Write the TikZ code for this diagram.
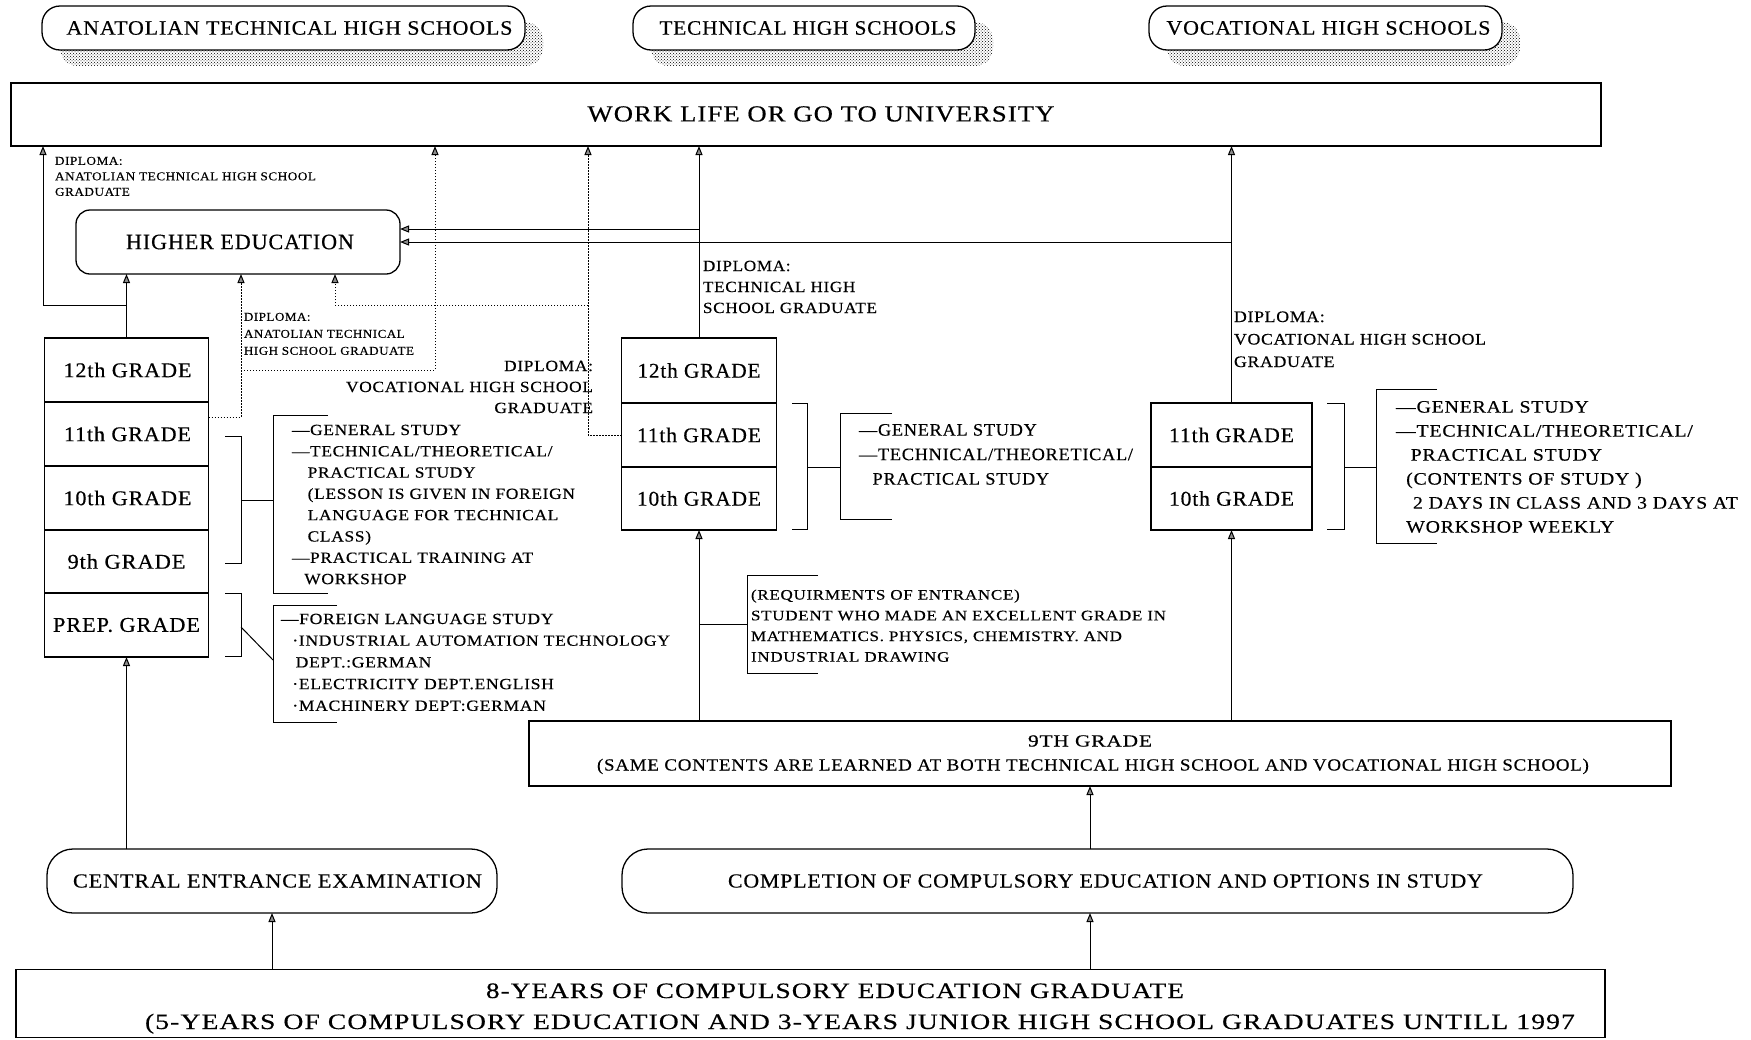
\documentclass[tikz,border=0pt]{standalone}
\usepackage{fontspec}
\setmainfont{Liberation Serif}[FakeBold=0.4, LetterSpace=4]
\usepackage{graphicx}
\usetikzlibrary{arrows.meta,patterns,shadows}
\newsavebox\fitbox
\newcommand\fitw[2]{\sbox\fitbox{#2}\pgfmathsetmacro\fitr{#1/\the\wd\fitbox}\scalebox{\fitr}[1]{\usebox\fitbox}}
\newcommand\fs[2]{\fontsize{#1}{#2}\selectfont}
\begin{document}
\begin{tikzpicture}[x=1pt,y=-1pt,
  every node/.style={inner sep=0pt, outer sep=0pt},
  box/.style={draw, line width=1.3pt, fill=white},
  titlebox/.style={box, rounded corners=18pt, minimum height=44pt,
    general shadow={shadow xshift=18pt, shadow yshift=-16pt, pattern=crosshatch dots, pattern color=black}},
  grade/.style={box, minimum height=64pt},
  agrade/.style={grade, minimum width=164pt},
  tgrade/.style={grade, minimum width=155pt},
  vgrade/.style={grade, minimum width=161pt},
  pill/.style={box, rounded corners=26pt, minimum height=64pt},
  arr/.style={line width=1pt, -{Triangle[length=9pt,width=7pt,fill=black!45]}},
  dots/.style={line width=1.1pt, dash pattern=on 1.3pt off 1.7pt},
  brk/.style={line width=1pt},
  blk/.style={anchor=base west},
]
\useasboundingbox (0,0) rectangle (1751,1039);

% top titles
\node[titlebox, minimum width=483pt] (ats) at (283.5,28) {\hspace*{12pt}\fs{20.5}{22}\fitw{446}{ANATOLIAN TECHNICAL HIGH SCHOOLS}};
\node[titlebox, minimum width=342pt] (ths) at (804,28) {\hspace*{8pt}\fs{20.5}{22}\fitw{297}{TECHNICAL HIGH SCHOOLS}};
\node[titlebox, minimum width=353pt] (vhs) at (1325.5,28) {\hspace*{6pt}\fs{20.5}{22}\fitw{324}{VOCATIONAL HIGH SCHOOLS}};

% work life
\node[box, minimum width=1590pt, minimum height=63pt] (work) at (806,114.5) {};
\node (worktxt) at (821,114) {\fs{23}{24}\fitw{467}{WORK LIFE OR GO TO UNIVERSITY}};

% higher education
\node[box, rounded corners=14pt, minimum width=324pt, minimum height=64pt] (he) at (238,242) {\hspace*{4pt}\fs{22}{24}\fitw{228}{HIGHER EDUCATION}};

% anatolian grades
\node[agrade] (a12) at (126.5,370) {\hspace*{2pt}\fs{21}{22}\fitw{128}{12th GRADE}};
\node[agrade] (a11) at (126.5,434) {\hspace*{2pt}\fs{21}{22}\fitw{127}{11th GRADE}};
\node[agrade] (a10) at (126.5,498) {\hspace*{2pt}\fs{21}{22}\fitw{128}{10th GRADE}};
\node[agrade, minimum height=63pt] (a9) at (126.5,561.5) {\fs{21}{22}\fitw{118}{9th GRADE}};
\node[agrade] (aprep) at (126.5,625) {\fs{21}{22}\fitw{147}{PREP. GRADE}};

% technical grades
\node[tgrade, minimum height=65pt] (t12) at (699,370.5) {\fs{21}{22}\fitw{123}{12th GRADE}};
\node[tgrade] (t11) at (699,435) {\fs{21}{22}\fitw{124}{11th GRADE}};
\node[tgrade, minimum height=63pt] (t10) at (699,498.5) {\fs{21}{22}\fitw{124}{10th GRADE}};

% vocational grades
\node[vgrade] (v11) at (1231.5,435) {\fs{21}{22}\fitw{125}{11th GRADE}};
\node[vgrade, minimum height=63pt] (v10) at (1231.5,498.5) {\fs{21}{22}\fitw{125}{10th GRADE}};

% 9th grade
\node[box, minimum width=1142pt, minimum height=65pt] (g9) at (1100,753.5) {};
\node[anchor=base] (g9a) at (1090,746.5) {\fs{17}{20}\fitw{124}{9TH GRADE}};
\node[anchor=base] (g9b) at (1093,770.5) {\fs{17}{20}\fitw{992}{(SAME CONTENTS ARE LEARNED AT BOTH TECHNICAL HIGH SCHOOL AND VOCATIONAL HIGH SCHOOL)}};

% entrance boxes
\node[pill, minimum width=450pt] (cee) at (272,881) {\hspace*{11pt}\fs{20}{22}\fitw{409}{CENTRAL ENTRANCE EXAMINATION}};
\node[pill, minimum width=951pt] (comp) at (1097.5,881) {\hspace*{16pt}\fs{20}{22}\fitw{755}{COMPLETION OF COMPULSORY EDUCATION AND OPTIONS IN STUDY}};

% bottom
\node[box, minimum width=1589pt, minimum height=68pt] (bot) at (810.5,1003.5) {};
\node[anchor=base] (bota) at (835,998) {\fs{22}{24}\fitw{698}{8-YEARS OF COMPULSORY EDUCATION GRADUATE}};
\node[anchor=base] (botb) at (860,1029) {\fs{22}{24}\fitw{1430}{(5-YEARS OF COMPULSORY EDUCATION AND 3-YEARS JUNIOR HIGH SCHOOL GRADUATES UNTILL 1997}};

% text blocks
\node[blk] (txA) at (292,435) {\fs{15.5}{21.3}\fitw{283}{\begin{tabular}[t]{@{}l@{}}—GENERAL STUDY\\—TECHNICAL/THEORETICAL/\\\hspace*{14pt}PRACTICAL STUDY\\\hspace*{14pt}(LESSON IS GIVEN IN FOREIGN\\\hspace*{14pt}LANGUAGE FOR TECHNICAL\\\hspace*{14pt}CLASS)\\—PRACTICAL TRAINING AT\\\hspace*{11pt}WORKSHOP\end{tabular}}};
\node[blk] (txB) at (281,624) {\fs{15.5}{21.7}\fitw{389}{\begin{tabular}[t]{@{}l@{}}—FOREIGN LANGUAGE STUDY\\\hspace*{10pt}·INDUSTRIAL AUTOMATION TECHNOLOGY\\\hspace*{13pt}DEPT.:GERMAN\\\hspace*{10pt}·ELECTRICITY DEPT.ENGLISH\\\hspace*{10pt}·MACHINERY DEPT:GERMAN\end{tabular}}};
\node[blk] (txC) at (859,435.6) {\fs{17.5}{24.5}\fitw{274}{\begin{tabular}[t]{@{}l@{}}—GENERAL STUDY\\—TECHNICAL/THEORETICAL/\\\hspace*{13pt}PRACTICAL STUDY\end{tabular}}};
\node[blk] (txD) at (1396,412.6) {\fs{17.5}{24}\fitw{342}{\begin{tabular}[t]{@{}l@{}}—GENERAL STUDY\\—TECHNICAL/THEORETICAL/\\\hspace*{13pt}PRACTICAL STUDY\\\hspace*{9pt}(CONTENTS OF STUDY )\\\hspace*{15pt}2 DAYS IN CLASS AND 3 DAYS AT\\\hspace*{9pt}WORKSHOP WEEKLY\end{tabular}}};
\node[blk] (txE) at (751,599.6) {\fs{14.5}{20.7}\fitw{415}{\begin{tabular}[t]{@{}l@{}}(REQUIRMENTS OF ENTRANCE)\\STUDENT WHO MADE AN EXCELLENT GRADE IN\\MATHEMATICS. PHYSICS, CHEMISTRY. AND\\INDUSTRIAL DRAWING\end{tabular}}};

% diploma labels
\node[blk] (dip1) at (55,164.8) {\fs{12}{15.5}\fitw{261}{\begin{tabular}[t]{@{}l@{}}DIPLOMA:\\ANATOLIAN TECHNICAL HIGH SCHOOL\\GRADUATE\end{tabular}}};
\node[blk] (dip2) at (244,320.8) {\fs{12}{17}\fitw{170}{\begin{tabular}[t]{@{}l@{}}DIPLOMA:\\ANATOLIAN TECHNICAL\\HIGH SCHOOL GRADUATE\end{tabular}}};
\node[anchor=base east] (dip3) at (593,371) {\fs{15.5}{21}\fitw{247}{\begin{tabular}[t]{@{}r@{}}DIPLOMA:\\VOCATIONAL HIGH SCHOOL\\GRADUATE\end{tabular}}};
\node[blk] (dip4) at (703,271) {\fs{15.5}{21}\fitw{174}{\begin{tabular}[t]{@{}l@{}}DIPLOMA:\\TECHNICAL HIGH\\SCHOOL GRADUATE\end{tabular}}};
\node[blk] (dip5) at (1234,322) {\fs{16}{22.5}\fitw{252}{\begin{tabular}[t]{@{}l@{}}DIPLOMA:\\VOCATIONAL HIGH SCHOOL\\GRADUATE\end{tabular}}};

% connectors: anatolian
\coordinate (jA) at (126.5,305);
\coordinate (kA) at (43,305);
\draw[arr] (a12.north) -- (a12.north |- he.south);
\draw[arr] (jA) -- (kA) -- (kA |- work.south);
\coordinate (dA0) at (208.5,417);
\coordinate (dA1) at (241,417);
\coordinate (dA2) at (241,370);
\coordinate (dA3) at (435,370);
\draw[dots, arr] (dA0) -- (dA1) -- (dA1 |- he.south);
\draw[dots, arr] (dA2) -- (dA3) -- (dA3 |- work.south);
\coordinate (dB1) at (588,435);
\coordinate (dB2) at (588,305);
\coordinate (dB3) at (335,305);
\draw[dots, arr] (t11.west) -- (dB1) -- (dB1 |- work.south);
\draw[dots, arr] (dB2) -- (dB3) -- (dB3 |- he.south);
\draw[arr] (aprep.south |- cee.north) -- (aprep.south);
\draw[arr] (cee.south |- bot.north) -- (cee.south);

% connectors: technical & vocational
\draw[arr] (t12.north) -- (t12.north |- work.south);
\coordinate (tA) at (699,229);
\draw[arr] (tA) -- (tA -| he.east);
\draw[arr] (v11.north) -- (v11.north |- work.south);
\coordinate (vA) at (1231.5,242);
\draw[arr] (vA) -- (vA -| he.east);
\draw[arr] (t10.south |- g9.north) -- (t10.south);
\draw[arr] (v10.south |- g9.north) -- (v10.south);
\coordinate (cA) at (1090,849);
\coordinate (cB) at (1090,913);
\draw[arr] (cA) -- (cA |- g9.south);
\draw[arr] (cB |- bot.north) -- (cB);

% brackets
\draw[brk] (225,436) -- (241,436) -- (241,563) -- (225,563);
\draw[brk] (241,500) -- (273,500);
\draw[brk] (328,415) -- (273,415) -- (273,593) -- (328,593);
\draw[brk] (225,593) -- (241,593) -- (241,656) -- (225,656);
\draw[brk] (241,627) -- (273,660);
\draw[brk] (337,605) -- (273,605) -- (273,722) -- (337,722);
\draw[brk] (792,403) -- (807,403) -- (807,529) -- (792,529);
\draw[brk] (807,467) -- (840,467);
\draw[brk] (892,413) -- (840,413) -- (840,519) -- (892,519);
\draw[brk] (1327,403) -- (1344,403) -- (1344,529) -- (1327,529);
\draw[brk] (1344,467) -- (1376,467);
\draw[brk] (1437,389) -- (1376,389) -- (1376,543) -- (1437,543);
\draw[brk] (699,624) -- (747,624);
\draw[brk] (818,575) -- (747,575) -- (747,673) -- (818,673);
\end{tikzpicture}
\end{document}
